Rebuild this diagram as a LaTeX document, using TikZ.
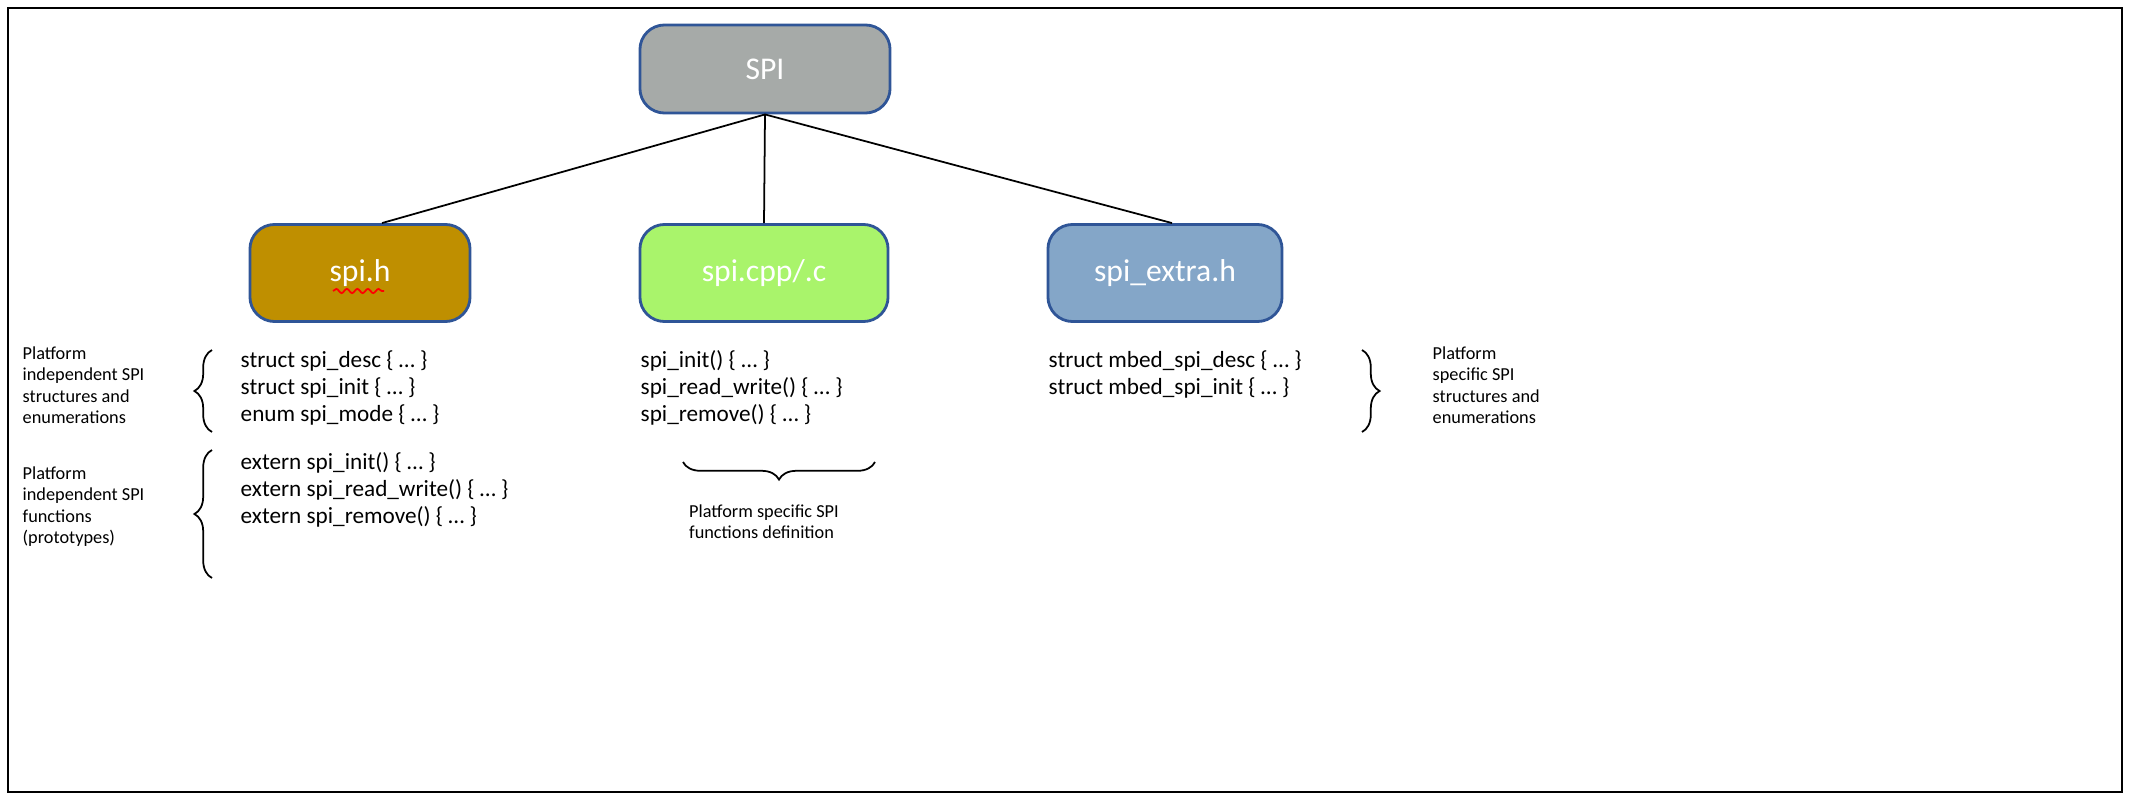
\documentclass[tikz,border=0pt]{standalone}
\usepackage{fontspec}
\setmainfont{Carlito}
\usepackage{tikz}
\usetikzlibrary{positioning,decorations.pathreplacing,decorations.pathmorphing}

\definecolor{spigray}{HTML}{A6AAA8}
\definecolor{hgold}{HTML}{BF8F00}
\definecolor{cgreen}{HTML}{A9F46B}
\definecolor{xblue}{HTML}{84A6C8}
\definecolor{edgeblue}{HTML}{2F5597}

\begin{document}
\begin{tikzpicture}[x=0.01cm,y=-0.01cm,
    box/.style={rectangle, rounded corners=7pt, draw=edgeblue, line width=0.8pt, text=white, font=\fontsize{9}{10}\selectfont},
    code/.style={align=left, anchor=north west, inner sep=0pt, font=\fontsize{6.6}{7.7}\selectfont},
    note/.style={align=left, anchor=north west, inner sep=0pt, font=\fontsize{5.2}{6.1}\selectfont},
    brace/.style={decorate, decoration={brace, amplitude=5pt}, line width=0.5pt}
]
    \draw[line width=0.8pt] (8,8) rectangle (2122,792);

    % Boxes
    \node[box, fill=spigray, minimum width=2.5cm, minimum height=0.88cm] (spi) at (765,69) {SPI};
    \node[box, fill=hgold, minimum width=2.2cm, minimum height=0.97cm] (hdr) at (360,273) {spi.h};
    \node[box, fill=cgreen, minimum width=2.48cm, minimum height=0.97cm] (src) at (764,273) {spi.cpp/.c};
    \node[box, fill=xblue, minimum width=2.34cm, minimum height=0.97cm] (extra) at (1165,273) {spi\_extra.h};
    \draw[red, line width=0.5pt, decorate, decoration={snake, amplitude=0.6pt, segment length=3pt}]
        (333,291) -- (384,291);

    % Connectors
    \draw[line width=0.5pt] (spi.south) -- ([xshift=0.22cm]hdr.north);
    \draw[line width=0.5pt] (spi.south) -- (src.north);
    \draw[line width=0.5pt] (spi.south) -- ([xshift=0.07cm]extra.north);

    % Code blocks
    \node[code] (hstruct) at (240,350) {struct spi\_desc \{ … \}\\struct spi\_init \{ … \}\\enum spi\_mode \{ … \}};
    \node[code] (hfunc) at (240,452) {extern spi\_init() \{ … \}\\extern spi\_read\_write() \{ … \}\\extern spi\_remove() \{ … \}};
    \node[code] (cfunc) at (640,350) {spi\_init() \{ … \}\\spi\_read\_write() \{ … \}\\spi\_remove() \{ … \}};
    \node[code] (xstruct) at (1048,350) {struct mbed\_spi\_desc \{ … \}\\struct mbed\_spi\_init \{ … \}};

    % Braces
    \coordinate (b1a) at (212,432); \coordinate (b1b) at (212,350);
    \coordinate (b2a) at (212,578); \coordinate (b2b) at (212,450);
    \coordinate (b3a) at (875,462); \coordinate (b3b) at (683,462);
    \coordinate (b4a) at (1362,350); \coordinate (b4b) at (1362,432);
    \draw[brace] (b1a) -- (b1b);
    \draw[brace] (b2a) -- (b2b);
    \draw[brace] (b3a) -- (b3b);
    \draw[brace] (b4a) -- (b4b);

    % Notes
    \node[note] (n1) at (22,346) {Platform\\independent SPI\\structures and\\enumerations};
    \node[note] (n2) at (22,466) {Platform\\independent SPI\\functions\\(prototypes)};
    \node[note, anchor=north, align=left] (n3) at (764,504) {Platform specific SPI\\functions definition};
    \node[note] (n4) at (1432,346) {Platform\\specific SPI\\structures and\\enumerations};

    \pgfresetboundingbox
    \useasboundingbox (0,0) rectangle (2130,800);
\end{tikzpicture}
\end{document}
